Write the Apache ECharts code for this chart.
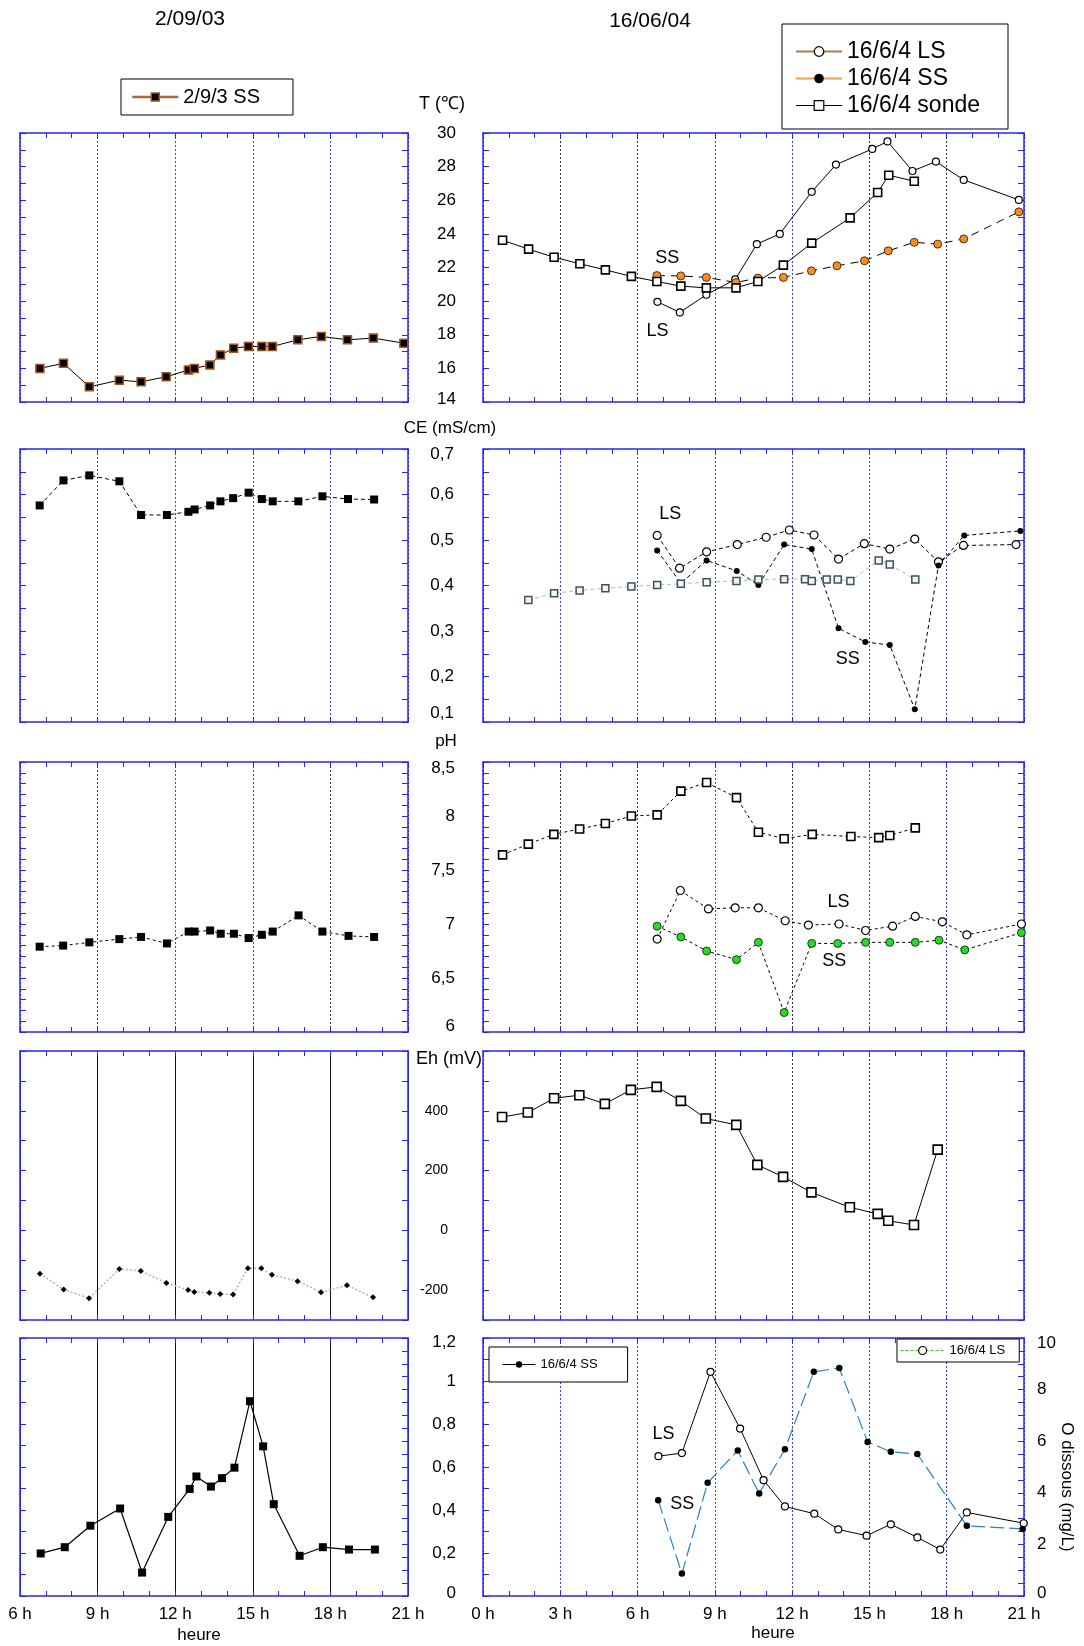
<!DOCTYPE html>
<html>
<head>
<meta charset="utf-8">
<title>Suivi journalier T, CE, pH, Eh, O dissous</title>
<script src="https://cdn.jsdelivr.net/npm/echarts@6/dist/echarts.min.js"></script>
<style>
  html, body { margin: 0; padding: 0; background: #ffffff; }
  #chart { width: 1084px; height: 1646px; }
</style>
</head>
<body>
<div id="chart"></div>
<script>
// ---------- 2/09/03 : sous-sol (SS) ----------
const t03Hours = [6.77, 7.68, 8.68, 9.84, 10.68, 11.65, 12.51, 12.74, 13.34, 13.75, 14.26, 14.83, 15.35, 15.75, 16.74, 17.65, 18.66, 19.66, 20.84];
const t03SS    = [16.0, 16.3, 14.9, 15.3, 15.2, 15.5, 15.9, 16.0, 16.2, 16.8, 17.2, 17.3, 17.3, 17.3, 17.7, 17.9, 17.7, 17.8, 17.5];

const ce03Hours = [6.76, 7.68, 8.68, 9.84, 10.68, 11.68, 12.51, 12.75, 13.35, 13.75, 14.24, 14.84, 15.35, 15.77, 16.76, 17.69, 18.68, 19.69];
const ce03SS    = [0.576, 0.631, 0.642, 0.629, 0.555, 0.555, 0.562, 0.567, 0.576, 0.585, 0.592, 0.604, 0.590, 0.585, 0.585, 0.596, 0.590, 0.589];

const ph03Hours = [6.76, 7.67, 8.68, 9.84, 10.68, 11.68, 12.52, 12.75, 13.35, 13.76, 14.27, 14.84, 15.35, 15.77, 16.77, 17.69, 18.70, 19.69];
const ph03SS    = [6.79, 6.80, 6.83, 6.86, 6.88, 6.82, 6.93, 6.93, 6.94, 6.91, 6.91, 6.87, 6.90, 6.93, 7.08, 6.93, 6.89, 6.88];

const eh03Hours = [6.77, 7.69, 8.67, 9.84, 10.67, 11.66, 12.50, 12.74, 13.32, 13.74, 14.24, 14.81, 15.33, 15.74, 16.73, 17.64, 18.64, 19.65];
const eh03SS    = [-145, -198, -227, -129, -136, -176, -200, -206, -209, -213, -215, -127, -127, -149, -170, -207, -184, -224];

const o03Hours = [6.80, 7.73, 8.72, 9.87, 10.72, 11.73, 12.56, 12.82, 13.38, 13.81, 14.29, 14.89, 15.40, 15.81, 16.81, 17.71, 18.72, 19.72];
const o03SS    = [0.198, 0.227, 0.327, 0.407, 0.109, 0.368, 0.498, 0.556, 0.509, 0.548, 0.597, 0.906, 0.696, 0.427, 0.187, 0.227, 0.216, 0.216];

// ---------- 16/06/04 : température (°C) ----------
const tSondeHours = [0.76, 1.77, 2.76, 3.76, 4.75, 5.76, 6.75, 7.68, 8.67, 9.82, 10.67, 11.66, 12.76, 14.25, 15.32, 15.75, 16.74];
const tSonde      = [23.62, 23.09, 22.61, 22.22, 21.86, 21.47, 21.17, 20.89, 20.79, 20.79, 21.17, 22.14, 23.45, 24.95, 26.46, 27.49, 27.13];
const tLSHours = [6.77, 7.64, 8.67, 9.79, 10.63, 11.52, 12.76, 13.70, 15.11, 15.70, 16.67, 17.58, 18.66, 20.80];
const tLS      = [19.96, 19.33, 20.38, 21.29, 23.39, 24.00, 26.50, 28.12, 29.05, 29.50, 27.74, 28.30, 27.21, 26.02];
const tSSHours = [6.75, 7.68, 8.67, 9.82, 10.67, 11.66, 12.75, 13.74, 14.81, 15.73, 16.74, 17.65, 18.66, 20.80];
const tSS      = [21.52, 21.50, 21.41, 21.11, 21.37, 21.41, 21.80, 22.10, 22.40, 22.99, 23.50, 23.39, 23.70, 25.31];

// ---------- 16/06/04 : conductivité (mS/cm) ----------
const ceSondeHours = [1.76, 2.76, 3.75, 4.75, 5.76, 6.76, 7.68, 8.68, 9.84, 10.69, 11.69, 12.50, 12.76, 13.34, 13.77, 14.26, 15.36, 15.79, 16.78];
const ceSonde      = [0.368, 0.383, 0.389, 0.394, 0.398, 0.401, 0.404, 0.407, 0.410, 0.413, 0.414, 0.414, 0.410, 0.413, 0.413, 0.410, 0.455, 0.446, 0.413];
const ceLSHours = [6.76, 7.63, 8.68, 9.87, 10.99, 11.89, 12.85, 13.80, 14.80, 15.79, 16.76, 17.68, 18.65, 20.69];
const ceLS      = [0.510, 0.438, 0.474, 0.490, 0.506, 0.522, 0.511, 0.458, 0.492, 0.480, 0.502, 0.452, 0.488, 0.490];
const ceSSHours = [6.76, 7.68, 8.68, 9.85, 10.69, 11.69, 12.76, 13.80, 14.84, 15.79, 16.76, 17.68, 18.68, 20.86];
const ceSS      = [0.477, 0.405, 0.455, 0.432, 0.401, 0.490, 0.480, 0.306, 0.276, 0.269, 0.128, 0.444, 0.510, 0.520];

// ---------- 16/06/04 : pH ----------
const phSondeHours = [0.76, 1.76, 2.75, 3.75, 4.75, 5.76, 6.76, 7.68, 8.68, 9.84, 10.69, 11.69, 12.78, 14.28, 15.36, 15.79, 16.78];
const phSonde      = [7.64, 7.74, 7.83, 7.88, 7.93, 8.00, 8.01, 8.23, 8.31, 8.17, 7.85, 7.79, 7.83, 7.81, 7.80, 7.82, 7.89];
const phLSHours = [6.76, 7.66, 8.75, 9.79, 10.69, 11.73, 12.63, 13.82, 14.85, 15.90, 16.78, 17.83, 18.78, 20.90];
const phLS      = [6.86, 7.31, 7.14, 7.15, 7.15, 7.03, 6.99, 7.00, 6.94, 6.98, 7.07, 7.02, 6.90, 7.00];
const phSSHours = [6.76, 7.68, 8.68, 9.84, 10.69, 11.69, 12.76, 13.77, 14.85, 15.79, 16.78, 17.70, 18.70, 20.90];
const phSS      = [6.98, 6.88, 6.75, 6.67, 6.83, 6.18, 6.82, 6.82, 6.83, 6.83, 6.83, 6.85, 6.76, 6.92];

// ---------- 16/06/04 : potentiel redox (mV) ----------
const ehSondeHours = [0.74, 1.74, 2.76, 3.74, 4.73, 5.74, 6.74, 7.68, 8.65, 9.83, 10.65, 11.65, 12.75, 14.24, 15.32, 15.73, 16.73, 17.65];
const ehSonde      = [379, 394, 442, 452, 423, 470, 480, 433, 374, 353, 219, 179, 127, 77, 55, 32, 18, 270];

// ---------- 16/06/04 : oxygène dissous (mg/L) ----------
const oLSHours = [6.81, 7.72, 8.83, 9.98, 10.89, 11.72, 12.86, 13.79, 14.89, 15.83, 16.86, 17.75, 18.78, 20.99];
const oLS      = [5.42, 5.54, 8.69, 6.49, 4.49, 3.47, 3.19, 2.58, 2.34, 2.78, 2.27, 1.80, 3.24, 2.82];
const oSSHours = [6.80, 7.72, 8.72, 9.89, 10.72, 11.72, 12.84, 13.83, 14.93, 15.83, 16.86, 18.78, 20.95];
const oSS      = [3.71, 0.87, 4.39, 5.64, 3.97, 5.69, 8.69, 8.84, 5.97, 5.59, 5.50, 2.72, 2.60];

// tick labels printed on the redox axis
const ehLabels = [-200, 0, 200, 400];

// ---------- styling ----------
const FONT = '"Liberation Sans", Arial, Helvetica, sans-serif';
const FRAME = '#2424ff';
const BL = '#3a3aff';   // blue dotted hour line
const BK = '#333333';   // dark dotted hour line
const SK = '#111111';   // solid hour line

const leftCol = { x: 20, w: 388, min: 6 };
const rightCol = { x: 483, w: 541, min: 0 };
const rowBoxes = [[133, 269], [449, 273], [762, 270], [1051, 269], [1338, 258]];

const commaFmt = v => String(Math.round(v * 100) / 100).replace('.', ',');

// end labels are nudged inwards (shiftMax: down, shiftMin: up), in px
const yRows = [
  { min: 14, max: 30, interval: 2, minor: 2, fmt: v => String(v), size: 17, margin: 27, shiftMax: 0, shiftMin: 3 },
  { min: 0.1, max: 0.7, interval: 0.1, minor: 2, fmt: v => v.toFixed(1).replace('.', ','), size: 17, margin: 29, shiftMax: 5, shiftMin: 9 },
  { min: 6, max: 8.5, interval: 0.5, minor: 5, fmt: commaFmt, size: 17, margin: 28, shiftMax: 6, shiftMin: 6 },
  { min: -300, max: 600, interval: 100, minor: 0, fmt: v => ehLabels.indexOf(v) >= 0 ? String(v) : '', size: 14, margin: 35, shiftMax: 0, shiftMin: 0 },
  { min: 0, max: 1.2, interval: 0.2, minor: 2, fmt: commaFmt, size: 17, margin: 27, shiftMax: 4, shiftMin: 3 }
];
const o2Axis = { min: 0, max: 10, interval: 2, minor: 4, fmt: v => String(v), size: 17, margin: 13, shiftMax: 5, shiftMin: 3 };

function tickLabel(r, show) {
  const base = { fontSize: r.size, fontFamily: FONT, color: '#000' };
  return {
    show: show, fontSize: r.size, fontFamily: FONT, color: '#000', margin: r.margin,
    formatter: v => {
      const s = r.fmt(v);
      if (s === '') return '';
      if (Math.abs(v - r.max) < 1e-9 && r.shiftMax) return '{mx|' + s + '}';
      if (Math.abs(v - r.min) < 1e-9 && r.shiftMin) return '{mn|' + s + '}';
      return '{n|' + s + '}';
    },
    rich: {
      n: base,
      mx: Object.assign({ padding: [2 * r.shiftMax, 0, 0, 0] }, base),
      mn: Object.assign({ padding: [0, 0, 2 * r.shiftMin, 0] }, base)
    }
  };
}

// hour-line colours and dash per panel (index = row*2 + column)
const panels = [
  { row: 0, col: leftCol,  lines: [FRAME, BL, BL, BL, BL, FRAME], dash: [2, 2] },
  { row: 0, col: rightCol, lines: [FRAME, BK, BK, BL, BL, BK, BK, FRAME], dash: [2, 2] },
  { row: 1, col: leftCol,  lines: [FRAME, BL, BL, BL, BL, FRAME], dash: [2, 2] },
  { row: 1, col: rightCol, lines: [FRAME, BL, BL, BL, BL, BL, BL, FRAME], dash: [2, 2] },
  { row: 2, col: leftCol,  lines: [FRAME, BK, BL, BL, BK, FRAME], dash: [2, 2] },
  { row: 2, col: rightCol, lines: [FRAME, BK, BK, BL, BK, BL, BL, FRAME], dash: [2, 2] },
  { row: 3, col: leftCol,  lines: [FRAME, SK, SK, SK, SK, FRAME], dash: 'solid' },
  { row: 3, col: rightCol, lines: [FRAME, BK, BK, BK, BK, BK, BL, FRAME], dash: [2, 2] },
  { row: 4, col: leftCol,  lines: [FRAME, SK, SK, SK, SK, FRAME], dash: 'solid' },
  { row: 4, col: rightCol, lines: [FRAME, BL, BL, BL, BL, BL, BL, FRAME], dash: [2, 2] }
];

const grids = [], xAxes = [], yAxes = [];
panels.forEach((pn, p) => {
  const [top, h] = rowBoxes[pn.row];
  const isRight = pn.col === rightCol;
  grids.push({ left: pn.col.x, top: top, width: pn.col.w, height: h, show: false, containLabel: false, outerBoundsMode: 'none' });

  const xBase = {
    type: 'value', gridIndex: p, min: pn.col.min, max: 21, interval: 3,
    axisLine: { show: true, onZero: false, lineStyle: { color: FRAME, width: 1.5 } },
    axisTick: { show: true, inside: true, length: 5, lineStyle: { color: FRAME, width: 1 } },
    minorTick: { show: true, splitNumber: 3, length: 5, lineStyle: { color: FRAME, width: 1 } },
    minorSplitLine: { show: false }
  };
  xAxes.push(Object.assign({}, xBase, {
    position: 'bottom',
    axisLabel: { show: pn.row === 4, formatter: v => v + ' h', fontSize: 17, fontFamily: FONT, color: '#000', margin: 10 },
    splitLine: { show: true, lineStyle: { color: pn.lines, type: pn.dash, width: 1 } }
  }));
  xAxes.push(Object.assign({}, xBase, { position: 'top', axisLabel: { show: false }, splitLine: { show: false } }));

  const r = yRows[pn.row];
  const yBase = {
    type: 'value', gridIndex: p, min: r.min, max: r.max, interval: r.interval,
    axisLine: { show: true, onZero: false, lineStyle: { color: FRAME, width: 1.5 } },
    axisTick: { show: true, inside: true, length: 6, lineStyle: { color: FRAME, width: 1 } },
    minorTick: { show: r.minor > 0, splitNumber: r.minor || 1, length: 6, lineStyle: { color: FRAME, width: 1 } },
    splitLine: { show: false }, minorSplitLine: { show: false }
  };
  yAxes.push(Object.assign({}, yBase, { position: 'left', axisLabel: tickLabel(r, isRight) }));
  if (pn.row === 4) {
    // oxygène dissous scale on the right-hand side
    yAxes.push(Object.assign({}, yBase, {
      position: 'right', min: o2Axis.min, max: o2Axis.max, interval: o2Axis.interval,
      minorTick: { show: true, splitNumber: o2Axis.minor, length: 6, lineStyle: { color: FRAME, width: 1 } },
      axisLabel: tickLabel(o2Axis, isRight)
    }));
  } else {
    yAxes.push(Object.assign({}, yBase, { position: 'right', axisLabel: { show: false } }));
  }
});

// ---------- series ----------
const series = [];
function addLine(name, p, hours, vals, sym, line, useRightAxis, z) {
  series.push({
    name: name, type: 'line',
    xAxisIndex: 2 * p, yAxisIndex: 2 * p + (useRightAxis ? 1 : 0),
    data: hours.map((h, i) => [h, vals[i]]),
    symbol: sym.type, symbolSize: sym.size, itemStyle: sym.style,
    lineStyle: line, emphasis: { disabled: true }, animation: false, z: z || 3
  });
  return series.length - 1;
}
const openCircle = (s) => ({ type: 'circle', size: s, style: { color: '#ffffff', borderColor: '#000', borderWidth: 1.2 } });
const openSquare = (s, c) => ({ type: 'rect', size: s, style: { color: '#ffffff', borderColor: c || '#000', borderWidth: 1.6 } });
const dot = (s, c) => ({ type: 'circle', size: s, style: { color: c || '#000', borderColor: '#111', borderWidth: c ? 0.8 : 0 } });
const blackSquare = (s) => ({ type: 'rect', size: s, style: { color: '#000' } });
const solid = (w) => ({ color: '#000', width: w || 1, type: 'solid' });
const dashed = (d) => ({ color: '#000', width: 1, type: d || [4, 3] });

// température
const sTLS = addLine('16/6/4 LS', 1, tLSHours, tLS, openCircle(7), solid(1));
const sTSS = addLine('16/6/4 SS', 1, tSSHours, tSS, dot(8, '#ff8c1a'), dashed([8, 6]));
addLine('16/6/4 sonde', 1, tSondeHours, tSonde, openSquare(8), solid(1));
addLine('2/9/3 SS', 0, t03Hours, t03SS, { type: 'rect', size: 8, style: { color: '#000', borderColor: '#a4541c', borderWidth: 1.5 } }, solid(1));

// conductivité
addLine('CE 2/9/3', 2, ce03Hours, ce03SS, blackSquare(8), dashed([4, 3]));
const sCELS = addLine('CE LS', 3, ceLSHours, ceLS, openCircle(8), dashed([4, 3]));
const sCESS = addLine('CE SS', 3, ceSSHours, ceSS, dot(6), dashed([4, 3]));
addLine('CE sonde', 3, ceSondeHours, ceSonde, { type: 'rect', size: 7, style: { color: '#f3f6f7', borderColor: '#3e5158', borderWidth: 1.5 } }, { color: '#a9bcc4', width: 1, type: [4, 3] }, false, 4);

// pH
addLine('pH 2/9/3', 4, ph03Hours, ph03SS, blackSquare(8), dashed([3, 3]));
addLine('pH sonde', 5, phSondeHours, phSonde, openSquare(8), dashed([3, 3]));
const sPHLS = addLine('pH LS', 5, phLSHours, phLS, openCircle(8), dashed([3, 3]));
const sPHSS = addLine('pH SS', 5, phSSHours, phSS, dot(8, '#22dd22'), dashed([3, 3]));

// Eh
addLine('Eh 2/9/3', 6, eh03Hours, eh03SS, { type: 'diamond', size: 6, style: { color: '#000' } }, { color: '#b4b4b4', width: 1.5, type: [2, 2] });
addLine('Eh sonde', 7, ehSondeHours, ehSonde, openSquare(9), solid(1));

// oxygène dissous
addLine('O2 2/9/3', 8, o03Hours, o03SS, blackSquare(8), solid(1.2));
const sOLS = addLine('16/6/4 LS', 9, oLSHours, oLS, openCircle(7), solid(1), true);
const sOSS = addLine('16/6/4 SS', 9, oSSHours, oSS, dot(6.5), { color: '#2a7fd4', width: 1.2, type: [14, 5] }, true);

// ---------- legends ----------
const legendText = (size) => ({ fontSize: size, fontFamily: FONT, color: '#000' });
const legends = [
  {
    left: 121, top: 79, orient: 'horizontal', selectedMode: false,
    itemWidth: 46, itemHeight: 10, padding: [8, 33, 8, 10],
    borderColor: '#000', borderWidth: 1, backgroundColor: '#fff',
    textStyle: legendText(20),
    data: [{ name: '2/9/3 SS', itemStyle: { color: '#000', borderColor: '#a4541c', borderWidth: 1.5 }, lineStyle: { color: '#a86a36', width: 2.5, type: 'solid' } }]
  },
  {
    left: 782, top: 24, orient: 'vertical', selectedMode: false,
    itemWidth: 46, itemHeight: 12, itemGap: 4, padding: [16, 28, 12, 13],
    borderColor: '#000', borderWidth: 1, backgroundColor: '#fff',
    textStyle: legendText(23),
    data: [
      { name: '16/6/4 LS', itemStyle: { color: '#fff', borderColor: '#000', borderWidth: 1.2 }, lineStyle: { color: '#b27a45', width: 2, type: 'solid' } },
      { name: '16/6/4 SS', itemStyle: { color: '#000', borderColor: '#000', borderWidth: 0 }, lineStyle: { color: '#f0a04b', width: 2, type: 'solid' } },
      { name: '16/6/4 sonde', itemStyle: { color: '#fff', borderColor: '#000', borderWidth: 1.2 }, lineStyle: { color: '#000', width: 1.2, type: 'solid' } }
    ]
  },
  {
    left: 489, top: 1347, orient: 'horizontal', selectedMode: false,
    itemWidth: 33, itemHeight: 8, padding: [11, 30, 11, 13],
    borderColor: '#000', borderWidth: 1, backgroundColor: '#fff',
    textStyle: legendText(13),
    data: [{ name: '16/6/4 SS', itemStyle: { color: '#000', borderWidth: 0 }, lineStyle: { color: '#000', width: 1, type: 'solid' } }]
  },
  {
    left: 897, top: 1339, orient: 'horizontal', selectedMode: false,
    itemWidth: 44, itemHeight: 10, padding: [5, 14, 5, 3],
    borderColor: '#000', borderWidth: 1, backgroundColor: '#fff',
    textStyle: legendText(13),
    data: [{ name: '16/6/4 LS', itemStyle: { color: '#fff', borderColor: '#000', borderWidth: 1.2 }, lineStyle: { color: '#33cc33', width: 1.2, type: [3, 2] } }]
  }
];

const chart = echarts.init(document.getElementById('chart'), null, { renderer: 'canvas' });
chart.setOption({
  backgroundColor: '#ffffff',
  animation: false,
  grid: grids,
  xAxis: xAxes,
  yAxis: yAxes,
  legend: legends,
  series: series
});

// ---------- free text: titles, axis names, curve tags ----------
function txt(x, y, text, size, extra) {
  return Object.assign({
    type: 'text', x: x, y: y, z: 10, silent: true,
    style: {
      text: text, fill: '#000', font: size + 'px ' + FONT,
      align: 'center', verticalAlign: 'middle', textAlign: 'center', textVerticalAlign: 'middle'
    }
  }, extra || {});
}
const tags = [
  { s: sTSS, at: [7.15, 22.57], text: 'SS' },
  { s: sTLS, at: [6.77, 18.2], text: 'LS' },
  { s: sCELS, at: [7.27, 0.558], text: 'LS' },
  { s: sCESS, at: [14.16, 0.239], text: 'SS' },
  { s: sPHLS, at: [13.8, 7.206], text: 'LS' },
  { s: sPHSS, at: [13.63, 6.656], text: 'SS' },
  { s: sOLS, at: [7.01, 6.29], text: 'LS' },
  { s: sOSS, at: [7.73, 3.55], text: 'SS' }
];
const graphics = [
  txt(190, 19, '2/09/03', 21),
  txt(650, 21, '16/06/04', 21),
  txt(442, 104, 'T (℃)', 18),
  txt(450, 428, 'CE (mS/cm)', 17),
  txt(446, 741, 'pH', 17),
  txt(449, 1059, 'Eh (mV)', 18),
  txt(199, 1635, 'heure', 17),
  txt(773, 1633, 'heure', 17),
  txt(1067, 1487, 'O dissous (mg/L)', 17, { rotation: -Math.PI / 2 })
];
tags.forEach(t => {
  const pt = chart.convertToPixel({ seriesIndex: t.s }, t.at);
  graphics.push(txt(pt[0], pt[1], t.text, 18));
});
chart.setOption({ graphic: graphics });
</script>
</body>
</html>
